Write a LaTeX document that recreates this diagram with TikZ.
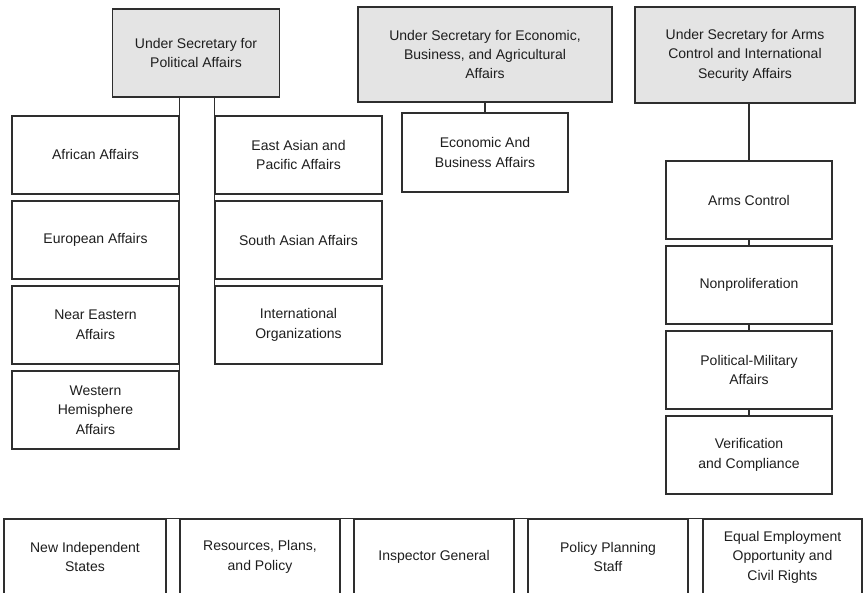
\documentclass[tikz,border=0pt]{standalone}
\usepackage{fontspec}
\setmainfont{Liberation Sans}
\definecolor{linec}{HTML}{2E2E2E}
\definecolor{headfill}{HTML}{E4E4E4}
\definecolor{txt}{HTML}{1E1E1E}
\begin{document}
\begin{tikzpicture}[x=1pt,y=-1pt,
  box/.style={draw=linec, line width=1.3pt, fill=white, inner sep=0pt,
    align=center, text=txt, font=\fontsize{14}{19.5}\selectfont},
  head/.style={box, fill=headfill},
  unit/.style={box, minimum width=167pt, minimum height=78pt},
  office/.style={box, minimum height=76pt},
  link/.style={draw=linec, line width=1.3pt}]
\useasboundingbox (0,0) rectangle (863,593);

% Under secretaries
\node[head, minimum width=167pt, minimum height=88pt] (pol) at (196,53)
  {Under Secretary for\\Political Affairs};
\node[head, minimum width=254pt, minimum height=95pt] (econ) at (485,54.5)
  {Under Secretary for Economic,\\Business, and Agricultural\\Affairs};
\node[head, minimum width=220pt, minimum height=96pt] (arms) at (745,55)
  {Under Secretary for Arms\\Control and International\\Security Affairs};

% Political affairs bureaus
\node[unit] (afr) at (95.5,155) {African Affairs};
\node[unit] (eur) at (95.5,240) {European Affairs};
\node[unit] (nea) at (95.5,325) {Near Eastern\\Affairs};
\node[unit] (wha) at (95.5,410) {Western\\Hemisphere\\Affairs};
\node[unit] (eap) at (298.5,155) {East Asian and\\Pacific Affairs};
\node[unit] (sas) at (298.5,240) {South Asian Affairs};
\node[unit] (io)  at (298.5,325) {International\\Organizations};

% Economic bureau
\node[unit, minimum width=166pt, minimum height=79pt] (eb) at (485,152.5)
  {Economic And\\Business Affairs};

% Arms control bureaus
\node[unit, minimum width=166pt] (ac) at (749,200) {Arms Control};
\node[unit, minimum width=166pt] (np) at (749,285) {Nonproliferation};
\node[unit, minimum width=166pt] (pm) at (749,370) {Political-Military\\Affairs};
\node[unit, minimum width=166pt] (vc) at (749,455) {Verification\\and Compliance};

% Offices reporting directly
\node[office, minimum width=162pt] (nis) at (85,557) {New Independent\\States};
\node[office, minimum width=160pt] (rpp) at (260,557) {Resources, Plans,\\and Policy};
\node[office, minimum width=160pt] (ig)  at (434,557) {Inspector General};
\node[office, minimum width=160pt] (pps) at (608,557) {Policy Planning\\Staff};
\node[office, minimum width=159pt] (eeo) at (782.5,557) {Equal Employment\\Opportunity and\\Civil Rights};

% Connectors
\draw[link] (pol.south -| wha.east) -- (wha.south east);
\draw[link] (pol.south -| io.west) -- (io.south west);
\draw[link] (econ.south) -- (eb.north);
\draw[link] (arms.south -| ac.north) -- (ac.north);
\draw[link] (ac.south) -- (np.north);
\draw[link] (np.south) -- (pm.north);
\draw[link] (pm.south) -- (vc.north);
\draw[link] (nis.north east) -- (rpp.north west);
\draw[link] (rpp.north east) -- (ig.north west);
\draw[link] (ig.north east) -- (pps.north west);
\draw[link] (pps.north east) -- (eeo.north west);
\end{tikzpicture}
\end{document}
